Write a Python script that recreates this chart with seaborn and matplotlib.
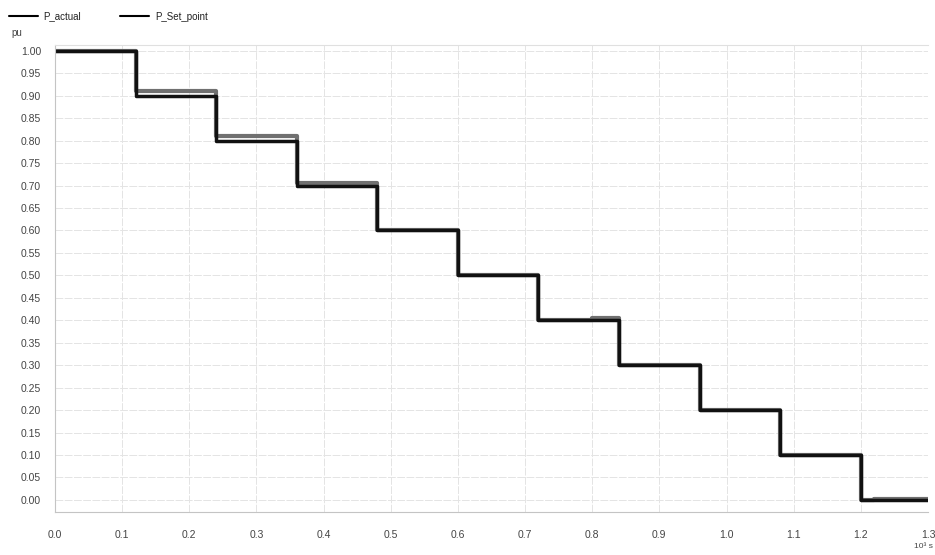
import pandas as pd
import matplotlib
matplotlib.use("Agg")
import matplotlib.pyplot as plt
import seaborn as sns
from matplotlib.ticker import MultipleLocator, FormatStrFormatter

# -----------------------------
# Data (time in 10^3 s, power in pu)
# -----------------------------
t_set = [0.0, 0.12, 0.24, 0.36, 0.48, 0.60, 0.72, 0.84, 0.96, 1.08, 1.20, 1.30]
p_set = [1.0, 0.90, 0.80, 0.70, 0.60, 0.50, 0.40, 0.30, 0.20, 0.10, 0.00, 0.00]

t_act = [0.0, 0.12, 0.24, 0.36, 0.48, 0.60, 0.72, 0.80, 0.84, 0.96, 1.08, 1.20, 1.22, 1.30]
p_act = [1.0, 0.91, 0.81, 0.705, 0.60, 0.50, 0.40, 0.405, 0.30, 0.20, 0.10, 0.00, 0.003, 0.003]

x_ticks = [0.0, 1.3]
y_ticks = [0.0, 1.0]

df_set = pd.DataFrame({"t": t_set, "p": p_set})
df_act = pd.DataFrame({"t": t_act, "p": p_act})

sns.set_style("whitegrid")
plt.rcParams["font.family"] = ["Liberation Sans", "DejaVu Sans"]

fig = plt.figure(figsize=(9.35, 5.55), dpi=100)
ax = fig.add_axes([0.0588, 0.0775, 0.9337, 0.8415])

sns.lineplot(data=df_act, x="t", y="p", ax=ax, drawstyle="steps-post",
             color="#707070", linewidth=3.0, label="P_actual", estimator=None)
sns.lineplot(data=df_set, x="t", y="p", ax=ax, drawstyle="steps-post",
             color="#111111", linewidth=2.5, label="P_Set_point", estimator=None)

ax.set_xlim(x_ticks[0], x_ticks[1])
ax.set_ylim(-0.027, 1.013)
ax.xaxis.set_major_locator(MultipleLocator(0.1))
ax.yaxis.set_major_locator(MultipleLocator(0.05))
ax.xaxis.set_major_formatter(FormatStrFormatter("%.1f"))
ax.yaxis.set_major_formatter(FormatStrFormatter("%.2f"))
ax.set_xlabel("")
ax.set_ylabel("")

ax.grid(True, color="#e4e4e4", linewidth=0.7, linestyle=(0, (8, 1.5)))
ax.tick_params(axis="both", labelsize=7.5, colors="#444444",
               length=4, width=0.8, direction="out", pad=6)
ax.tick_params(axis="both", color="#888888")
ax.tick_params(axis="x", pad=9)
ax.spines["right"].set_visible(False)
ax.spines["top"].set_color("#e0e0e0")
ax.spines["top"].set_linewidth(0.8)
for side in ["left", "bottom"]:
    ax.spines[side].set_color("#c4c4c4")
    ax.spines[side].set_linewidth(0.8)

# legend above the plot, left aligned
handles, labels = ax.get_legend_handles_labels()
ax.get_legend().remove()
handles = [plt.Line2D([], [], color="black", linewidth=1.5) for _ in handles]
fig.legend(handles, labels, loc="upper left", bbox_to_anchor=(0.0, 0.995),
           ncol=2, frameon=False, fontsize=7, handlelength=3,
           columnspacing=4, handletextpad=0.6, labelcolor="#222222")

fig.text(0.012, 0.935, "pu", fontsize=7, color="#444444")
fig.text(0.978, 0.012, "10³ s", fontsize=6, color="#444444")

fig.savefig("out.png", dpi=100)
